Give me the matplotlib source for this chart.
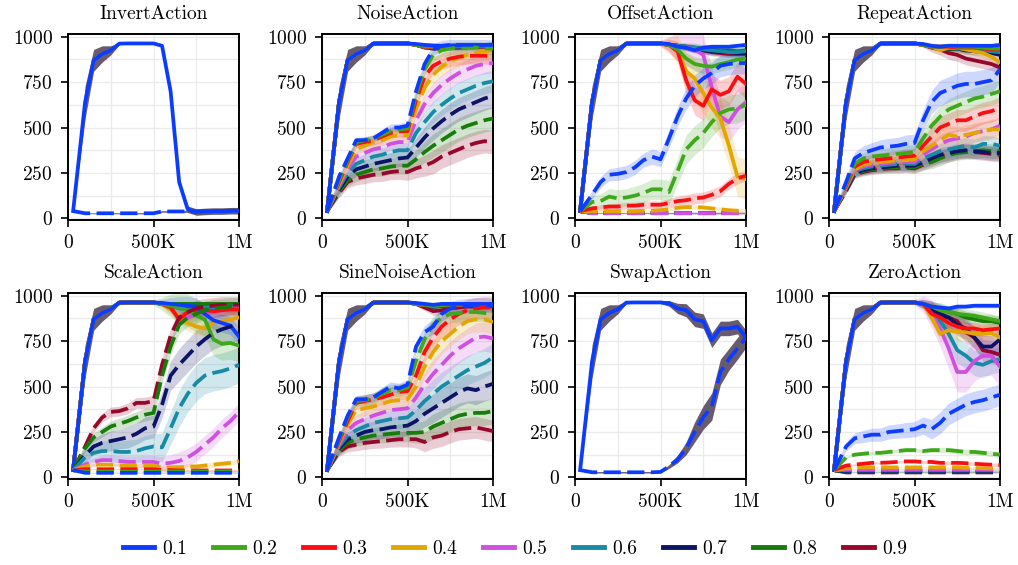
import numpy as np
import matplotlib.pyplot as plt
from matplotlib.ticker import FixedLocator, MultipleLocator
from matplotlib.lines import Line2D

plt.rcParams["font.family"] = "serif"
plt.rcParams["font.serif"] = ["cmr10"]
plt.rcParams["axes.formatter.use_mathtext"] = True
plt.rcParams["font.size"] = 14

# training steps (in thousands)
STEPS_K = [30, 100, 150, 200, 250, 300, 350, 400, 450, 500,
           550, 600, 650, 700, 750, 800, 850, 900, 950, 1000]

PROBS = ["0.1", "0.2", "0.3", "0.4", "0.5", "0.6", "0.7", "0.8", "0.9"]
COLORS = ["#0c3cff", "#3ea81a", "#fb0e12", "#e3a600", "#cf4fe0",
          "#178ba5", "#0b1466", "#167c0a", "#96072b"]
BAND_GRAY = "#615266"

# clean training phase, shared by every solid curve (0 - 500K)
CLEAN = [40, 640, 870, 905, 925, 962, 963, 963, 963, 963]
CLEAN_STD = [5, 90, 60, 45, 25, 6, 4, 4, 4, 4]

# how the spread grows over the run (solid tail from 500K, dashed over all steps)
TAIL_SD_RAMP = [0.15, 0.4, 0.7, 0.9, 1, 1, 1, 1, 1, 1, 1]
DASH_SD_RAMP = [0.1, 0.4, 0.5, 0.55, 0.6, 0.6, 0.65, 0.65, 0.7, 0.7,
                0.8, 0.9, 1, 1, 1, 1, 1, 1, 1, 1]

# ---- InvertAction ----
INVERT_SOLID = [[950, 700, 200, 50, 35, 38, 40, 40, 42, 42]]
INVERT_DASH = [[40, 28, 28, 28, 28, 28, 28, 28, 28, 28, 38, 38, 38, 38, 38, 39, 40, 40, 42, 42]]
INVERT_SOLID_SD = [18]
INVERT_DASH_SD = [5]

# ---- NoiseAction ----
NOISE_SOLID = [
    [960, 955, 952, 950, 952, 953, 955, 955, 955, 957],
    [955, 948, 945, 945, 948, 950, 950, 952, 952, 952],
    [955, 945, 942, 942, 945, 948, 948, 950, 950, 950],
    [955, 945, 942, 945, 947, 950, 952, 953, 955, 955],
    [955, 948, 945, 945, 947, 948, 950, 950, 952, 952],
    [955, 945, 942, 942, 945, 946, 948, 950, 950, 950],
    [955, 945, 940, 940, 942, 945, 947, 948, 950, 950],
    [955, 942, 938, 938, 940, 943, 945, 947, 948, 948],
    [955, 940, 935, 935, 938, 940, 942, 945, 945, 945],
]
NOISE_DASH = [
    [40, 230, 330, 430, 430, 440, 470, 500, 500, 510, 700, 850, 930, 950, 955, 955, 955, 955, 955, 955],
    [40, 210, 320, 420, 430, 440, 460, 480, 490, 495, 680, 820, 900, 925, 935, 940, 940, 940, 935, 935],
    [40, 200, 310, 410, 420, 430, 450, 470, 480, 480, 650, 780, 840, 865, 880, 890, 895, 895, 895, 890],
    [40, 190, 290, 380, 400, 420, 430, 450, 460, 455, 600, 720, 790, 835, 865, 885, 900, 912, 920, 925],
    [40, 180, 270, 340, 360, 380, 390, 410, 420, 420, 540, 630, 690, 735, 770, 800, 820, 840, 850, 855],
    [40, 170, 250, 300, 320, 340, 350, 365, 375, 375, 470, 530, 585, 625, 660, 690, 710, 730, 745, 755],
    [40, 160, 230, 270, 285, 300, 310, 320, 330, 335, 390, 445, 495, 535, 570, 600, 620, 640, 660, 675],
    [40, 150, 210, 240, 255, 270, 275, 285, 290, 290, 325, 365, 400, 430, 460, 490, 510, 525, 540, 550],
    [40, 140, 200, 220, 230, 240, 245, 255, 260, 255, 275, 290, 310, 340, 360, 380, 400, 415, 425, 420],
]
NOISE_SOLID_SD = [8, 10, 10, 10, 10, 10, 10, 12, 12]
NOISE_DASH_SD = [30, 35, 45, 50, 55, 60, 65, 65, 65]

# ---- OffsetAction ----
OFFSET_SOLID = [
    [960, 945, 940, 925, 940, 945, 945, 945, 950, 955],
    [955, 930, 880, 850, 840, 835, 850, 860, 875, 880],
    [955, 920, 760, 650, 620, 710, 680, 700, 780, 740],
    [955, 930, 810, 770, 690, 610, 550, 400, 230, 215],
    [955, 945, 940, 930, 900, 720, 560, 530, 600, 640],
    [955, 950, 945, 940, 930, 925, 920, 915, 915, 920],
    [955, 950, 940, 930, 925, 920, 915, 915, 910, 910],
    [955, 950, 945, 940, 935, 930, 925, 925, 920, 925],
    [955, 950, 945, 935, 925, 915, 910, 905, 905, 905],
]
OFFSET_DASH = [
    [40, 130, 200, 240, 245, 255, 280, 320, 340, 325, 440, 560, 660, 730, 770, 800, 840, 850, 855, 855],
    [40, 90, 95, 120, 110, 115, 125, 140, 160, 160, 145, 260, 380, 430, 470, 530, 580, 600, 605, 625],
    [40, 55, 60, 65, 65, 70, 70, 75, 75, 75, 85, 95, 100, 110, 115, 130, 150, 190, 220, 235],
    [40, 40, 40, 40, 40, 40, 40, 42, 42, 45, 50, 58, 62, 62, 60, 55, 50, 45, 42, 40],
    [40, 28, 28, 28, 28, 28, 28, 28, 28, 28, 28, 28, 28, 28, 28, 28, 28, 28, 28, 28],
    [40, 29, 29, 29, 29, 29, 29, 29, 29, 29, 29, 29, 29, 29, 29, 29, 29, 29, 29, 29],
    [40, 29, 29, 29, 29, 29, 29, 29, 29, 29, 29, 29, 29, 29, 29, 29, 29, 29, 29, 29],
    [40, 30, 30, 30, 30, 30, 30, 30, 30, 30, 30, 30, 30, 30, 30, 30, 30, 30, 30, 30],
    [40, 30, 30, 30, 30, 30, 30, 30, 30, 30, 30, 30, 30, 30, 30, 30, 30, 30, 30, 30],
]
OFFSET_SOLID_SD = [12, 40, 80, 110, 110, 25, 20, 20, 20]
OFFSET_DASH_SD = [60, 80, 30, 12, 5, 4, 4, 4, 4]

# ---- RepeatAction ----
REPEAT_SOLID = [
    [960, 950, 945, 950, 950, 950, 950, 950, 950, 955],
    [955, 945, 945, 950, 945, 945, 945, 940, 935, 935],
    [955, 945, 945, 945, 940, 940, 940, 935, 930, 930],
    [955, 945, 925, 940, 940, 930, 920, 910, 890, 860],
    [955, 945, 945, 945, 945, 940, 940, 940, 945, 945],
    [955, 945, 940, 940, 935, 935, 930, 925, 920, 915],
    [955, 945, 940, 935, 935, 925, 920, 915, 910, 900],
    [955, 945, 940, 930, 935, 925, 930, 935, 930, 925],
    [955, 940, 930, 910, 900, 880, 870, 860, 850, 830],
]
REPEAT_DASH = [
    [40, 200, 330, 360, 375, 390, 395, 400, 410, 415, 540, 640, 690, 710, 730, 740, 740, 750, 760, 820],
    [40, 190, 300, 330, 340, 345, 350, 355, 360, 365, 440, 510, 560, 600, 620, 640, 660, 670, 685, 700],
    [40, 180, 285, 310, 320, 325, 330, 335, 340, 345, 400, 450, 500, 520, 540, 540, 560, 580, 590, 610],
    [40, 175, 270, 295, 305, 310, 315, 320, 320, 325, 370, 400, 430, 460, 450, 460, 470, 480, 490, 490],
    [40, 170, 265, 285, 295, 300, 305, 310, 310, 310, 350, 380, 410, 430, 440, 450, 470, 480, 490, 510],
    [40, 165, 260, 275, 285, 290, 295, 300, 300, 300, 330, 350, 370, 380, 390, 400, 390, 410, 410, 400],
    [40, 160, 250, 265, 275, 280, 285, 290, 290, 290, 310, 330, 350, 360, 370, 375, 370, 365, 360, 360],
    [40, 155, 245, 260, 270, 275, 280, 280, 285, 280, 300, 310, 330, 350, 360, 365, 370, 375, 370, 370],
    [40, 150, 240, 255, 265, 270, 275, 275, 280, 275, 295, 320, 340, 350, 365, 370, 365, 360, 355, 350],
]
REPEAT_SOLID_SD = [10, 15, 15, 25, 15, 15, 20, 15, 35]
REPEAT_DASH_SD = [70, 60, 60, 55, 50, 45, 40, 40, 40]

# ---- ScaleAction ----
SCALE_SOLID = [
    [960, 955, 950, 945, 940, 900, 865, 850, 835, 775],
    [955, 945, 935, 920, 890, 870, 760, 735, 740, 725],
    [955, 935, 870, 910, 915, 920, 915, 920, 925, 925],
    [955, 925, 890, 850, 830, 820, 850, 860, 870, 880],
    [955, 930, 880, 880, 900, 910, 915, 920, 930, 935],
    [955, 945, 930, 925, 930, 935, 935, 940, 940, 945],
    [955, 950, 945, 940, 935, 930, 925, 930, 935, 935],
    [955, 955, 955, 955, 955, 955, 955, 955, 955, 955],
    [955, 950, 945, 945, 950, 950, 950, 950, 950, 950],
]
SCALE_DASH = [
    [40, 25, 25, 25, 25, 25, 25, 25, 25, 25, 25, 25, 25, 25, 25, 25, 25, 25, 25, 25],
    [40, 32, 32, 32, 32, 32, 32, 32, 32, 32, 32, 32, 32, 32, 32, 32, 32, 32, 32, 32],
    [40, 45, 45, 45, 45, 45, 45, 45, 45, 45, 40, 40, 38, 38, 38, 38, 38, 38, 38, 38],
    [40, 60, 70, 70, 70, 65, 65, 65, 65, 65, 55, 55, 55, 60, 60, 65, 70, 75, 80, 90],
    [40, 70, 85, 95, 95, 90, 85, 85, 85, 85, 75, 80, 90, 110, 140, 180, 220, 270, 310, 360],
    [40, 110, 135, 145, 145, 140, 140, 145, 160, 170, 165, 270, 380, 460, 520, 560, 575, 585, 600, 620],
    [40, 120, 170, 190, 200, 210, 220, 240, 270, 280, 400, 560, 620, 670, 720, 760, 795, 815, 830, 845],
    [40, 160, 220, 250, 280, 295, 310, 330, 345, 355, 560, 720, 840, 880, 900, 920, 930, 935, 940, 940],
    [40, 170, 270, 330, 360, 365, 380, 410, 410, 420, 620, 780, 880, 910, 930, 940, 945, 950, 950, 950],
]
SCALE_SOLID_SD = [50, 90, 30, 45, 35, 20, 20, 12, 12]
SCALE_DASH_SD = [4, 4, 6, 15, 50, 100, 90, 50, 45]

# ---- SineNoiseAction ----
SINE_SOLID = [
    [960, 955, 950, 955, 955, 955, 955, 955, 955, 955],
    [955, 950, 945, 948, 950, 952, 952, 952, 950, 950],
    [955, 948, 945, 945, 948, 950, 950, 950, 948, 948],
    [955, 948, 945, 948, 950, 950, 952, 952, 950, 950],
    [955, 950, 947, 948, 950, 950, 950, 950, 948, 948],
    [955, 948, 945, 947, 948, 950, 950, 950, 950, 950],
    [955, 945, 940, 945, 947, 948, 948, 948, 948, 948],
    [955, 945, 940, 942, 945, 947, 947, 948, 948, 948],
    [955, 935, 915, 920, 930, 935, 940, 940, 940, 942],
]
SINE_DASH = [
    [40, 220, 340, 430, 430, 440, 470, 500, 490, 510, 720, 800, 830, 900, 930, 940, 945, 950, 950, 945],
    [40, 210, 330, 420, 425, 435, 460, 480, 480, 495, 640, 760, 840, 880, 900, 905, 910, 910, 905, 900],
    [40, 200, 310, 410, 420, 430, 440, 455, 470, 475, 560, 690, 770, 830, 870, 900, 920, 930, 935, 935],
    [40, 190, 290, 370, 380, 390, 405, 420, 425, 430, 500, 610, 690, 750, 790, 830, 860, 870, 870, 855],
    [40, 180, 260, 300, 320, 340, 355, 370, 375, 380, 440, 510, 570, 620, 670, 710, 740, 770, 775, 765],
    [40, 170, 230, 260, 280, 300, 310, 320, 325, 330, 370, 420, 460, 500, 530, 560, 590, 610, 630, 660],
    [40, 160, 210, 230, 250, 260, 265, 275, 280, 285, 310, 350, 380, 410, 440, 470, 490, 480, 500, 515],
    [40, 150, 190, 210, 220, 230, 235, 240, 245, 245, 245, 250, 280, 300, 320, 340, 350, 355, 355, 365],
    [40, 140, 170, 180, 190, 195, 200, 205, 210, 210, 210, 195, 220, 230, 250, 265, 270, 275, 265, 255],
]
SINE_SOLID_SD = [8, 10, 10, 10, 10, 10, 12, 12, 25]
SINE_DASH_SD = [40, 50, 60, 70, 80, 80, 80, 70, 60]

# ---- SwapAction ----
SWAP_SOLID = [[958, 930, 920, 870, 860, 755, 820, 820, 830, 770]]
SWAP_DASH = [[40, 28, 28, 28, 28, 28, 28, 28, 28, 30, 60, 100, 160, 250, 330, 390, 580, 650, 710, 770]]
SWAP_SOLID_SD = [40]
SWAP_DASH_SD = [[4, 4, 4, 4, 4, 4, 4, 4, 4, 5, 10, 20, 35, 55, 65, 75, 70, 60, 60, 55]]

# ---- ZeroAction ----
ZERO_SOLID = [
    [955, 940, 935, 930, 940, 940, 945, 945, 945, 945],
    [955, 940, 920, 910, 900, 895, 890, 880, 870, 860],
    [955, 900, 880, 850, 830, 820, 820, 810, 815, 820],
    [955, 880, 790, 810, 800, 800, 790, 790, 795, 770],
    [955, 900, 820, 710, 580, 580, 640, 670, 670, 610],
    [955, 900, 860, 790, 700, 670, 630, 620, 640, 650],
    [955, 930, 900, 880, 840, 820, 770, 720, 720, 760],
    [955, 940, 930, 910, 900, 880, 870, 860, 860, 850],
    [955, 930, 880, 880, 860, 800, 770, 700, 690, 675],
]
ZERO_DASH = [
    [40, 170, 215, 225, 235, 235, 250, 255, 260, 265, 285, 265, 300, 350, 375, 400, 415, 425, 440, 455],
    [40, 110, 125, 130, 135, 135, 140, 145, 150, 150, 145, 150, 150, 150, 145, 140, 140, 135, 130, 125],
    [40, 65, 70, 75, 80, 80, 82, 85, 88, 88, 85, 85, 80, 80, 80, 78, 75, 72, 70, 68],
    [40, 50, 55, 55, 55, 55, 55, 55, 55, 55, 55, 55, 55, 55, 55, 52, 52, 50, 50, 50],
    [40, 45, 45, 45, 45, 45, 45, 45, 45, 45, 45, 45, 45, 45, 45, 45, 45, 45, 45, 45],
    [40, 38, 38, 38, 38, 38, 38, 38, 38, 38, 38, 38, 38, 38, 38, 38, 38, 38, 38, 38],
    [40, 32, 32, 32, 32, 32, 32, 32, 32, 32, 32, 32, 32, 32, 32, 32, 32, 32, 32, 32],
    [40, 30, 30, 30, 30, 30, 30, 30, 30, 30, 30, 30, 30, 30, 30, 30, 30, 30, 30, 30],
    [40, 27, 27, 27, 27, 27, 27, 27, 27, 27, 27, 27, 27, 27, 27, 27, 27, 27, 27, 27],
]
ZERO_SOLID_SD = [12, 30, 35, 45, 110, 70, 60, 35, 60]
ZERO_DASH_SD = [60, 15, 10, 6, 5, 4, 4, 4, 4]

PANELS = [
    ("InvertAction", INVERT_SOLID, INVERT_DASH, INVERT_SOLID_SD, INVERT_DASH_SD),
    ("NoiseAction", NOISE_SOLID, NOISE_DASH, NOISE_SOLID_SD, NOISE_DASH_SD),
    ("OffsetAction", OFFSET_SOLID, OFFSET_DASH, OFFSET_SOLID_SD, OFFSET_DASH_SD),
    ("RepeatAction", REPEAT_SOLID, REPEAT_DASH, REPEAT_SOLID_SD, REPEAT_DASH_SD),
    ("ScaleAction", SCALE_SOLID, SCALE_DASH, SCALE_SOLID_SD, SCALE_DASH_SD),
    ("SineNoiseAction", SINE_SOLID, SINE_DASH, SINE_SOLID_SD, SINE_DASH_SD),
    ("SwapAction", SWAP_SOLID, SWAP_DASH, SWAP_SOLID_SD, SWAP_DASH_SD),
    ("ZeroAction", ZERO_SOLID, ZERO_DASH, ZERO_SOLID_SD, ZERO_DASH_SD),
]

x = np.array(STEPS_K) * 1000
n_clean = len(CLEAN)
clean = np.array(CLEAN)
clean_sd = np.array(CLEAN_STD)
tail_ramp = np.array(TAIL_SD_RAMP)
dash_ramp = np.array(DASH_SD_RAMP)

LW = 2.7
DASH = (0, (4.6, 1.7))

fig = plt.figure(figsize=(10.18, 5.65), dpi=100)

W, H = 1018, 565
lefts = [68, 322, 575, 829]
bottoms = [220, 479]
ax_w, ax_h = 171, 186

for k, (title, solids, dashes, solid_sd, dash_sd) in enumerate(PANELS):
    row, col = divmod(k, 4)
    ax = fig.add_axes([lefts[col] / W, 1 - bottoms[row] / H, ax_w / W, ax_h / H])
    gray_only = len(solids) == 1

    # clean phase band
    ax.fill_between(x[:n_clean], clean - clean_sd, clean + clean_sd,
                    color=BAND_GRAY, alpha=0.95, lw=0, zorder=3)

    order = list(range(len(solids)))[::-1]
    for i in order:
        bc = BAND_GRAY if gray_only else COLORS[i]
        ba = 0.95 if gray_only else 0.2
        tail = np.concatenate([clean[-1:], solids[i]])
        tsd = solid_sd[i] * tail_ramp
        ax.fill_between(x[n_clean - 1:], tail - tsd, tail + tsd,
                        color=bc, alpha=ba, lw=0, zorder=2)
        d = np.array(dashes[i])
        if np.ndim(dash_sd[i]) == 0:
            dsd = dash_sd[i] * dash_ramp
        else:
            dsd = np.array(dash_sd[i])
        ax.fill_between(x, d - dsd, d + dsd, color=bc, alpha=ba, lw=0, zorder=2)

    for i in order:
        full = np.concatenate([clean, solids[i]])
        ax.plot(x, full, color=COLORS[i], lw=LW, zorder=4)
    for i in order:
        ax.plot(x, dashes[i], color=COLORS[i], lw=LW, ls=DASH, zorder=5)

    ax.set_xlim(0, 1e6)
    ax.set_ylim(-9, 1015)
    ax.set_xticks([0, 5e5, 1e6])
    ax.set_xticklabels(["0", "500K", "1M"])
    ax.xaxis.set_minor_locator(FixedLocator([2.5e5, 7.5e5]))
    ax.set_yticks([0, 250, 500, 750, 1000])
    ax.yaxis.set_minor_locator(MultipleLocator(125))
    ax.grid(which="both", color="#ebebeb", lw=1.0)
    ax.set_axisbelow(True)
    ax.tick_params(which="minor", length=0)
    ax.tick_params(which="major", length=5, width=1.2, direction="out")
    ax.tick_params(axis="y", pad=6)
    ax.tick_params(axis="x", pad=5)
    for s in ax.spines.values():
        s.set_linewidth(1.4)
        s.set_color("black")
    ax.set_title(title, fontsize=14, pad=11)

handles = [Line2D([], [], color=c, lw=3.5) for c in COLORS]
fig.legend(handles, PROBS, loc="center", bbox_to_anchor=(0.506, 0.028), ncol=9,
           frameon=False, handlelength=1.6, columnspacing=1.35, handletextpad=0.4,
           fontsize=14)

fig.savefig("out.png", dpi=100)
